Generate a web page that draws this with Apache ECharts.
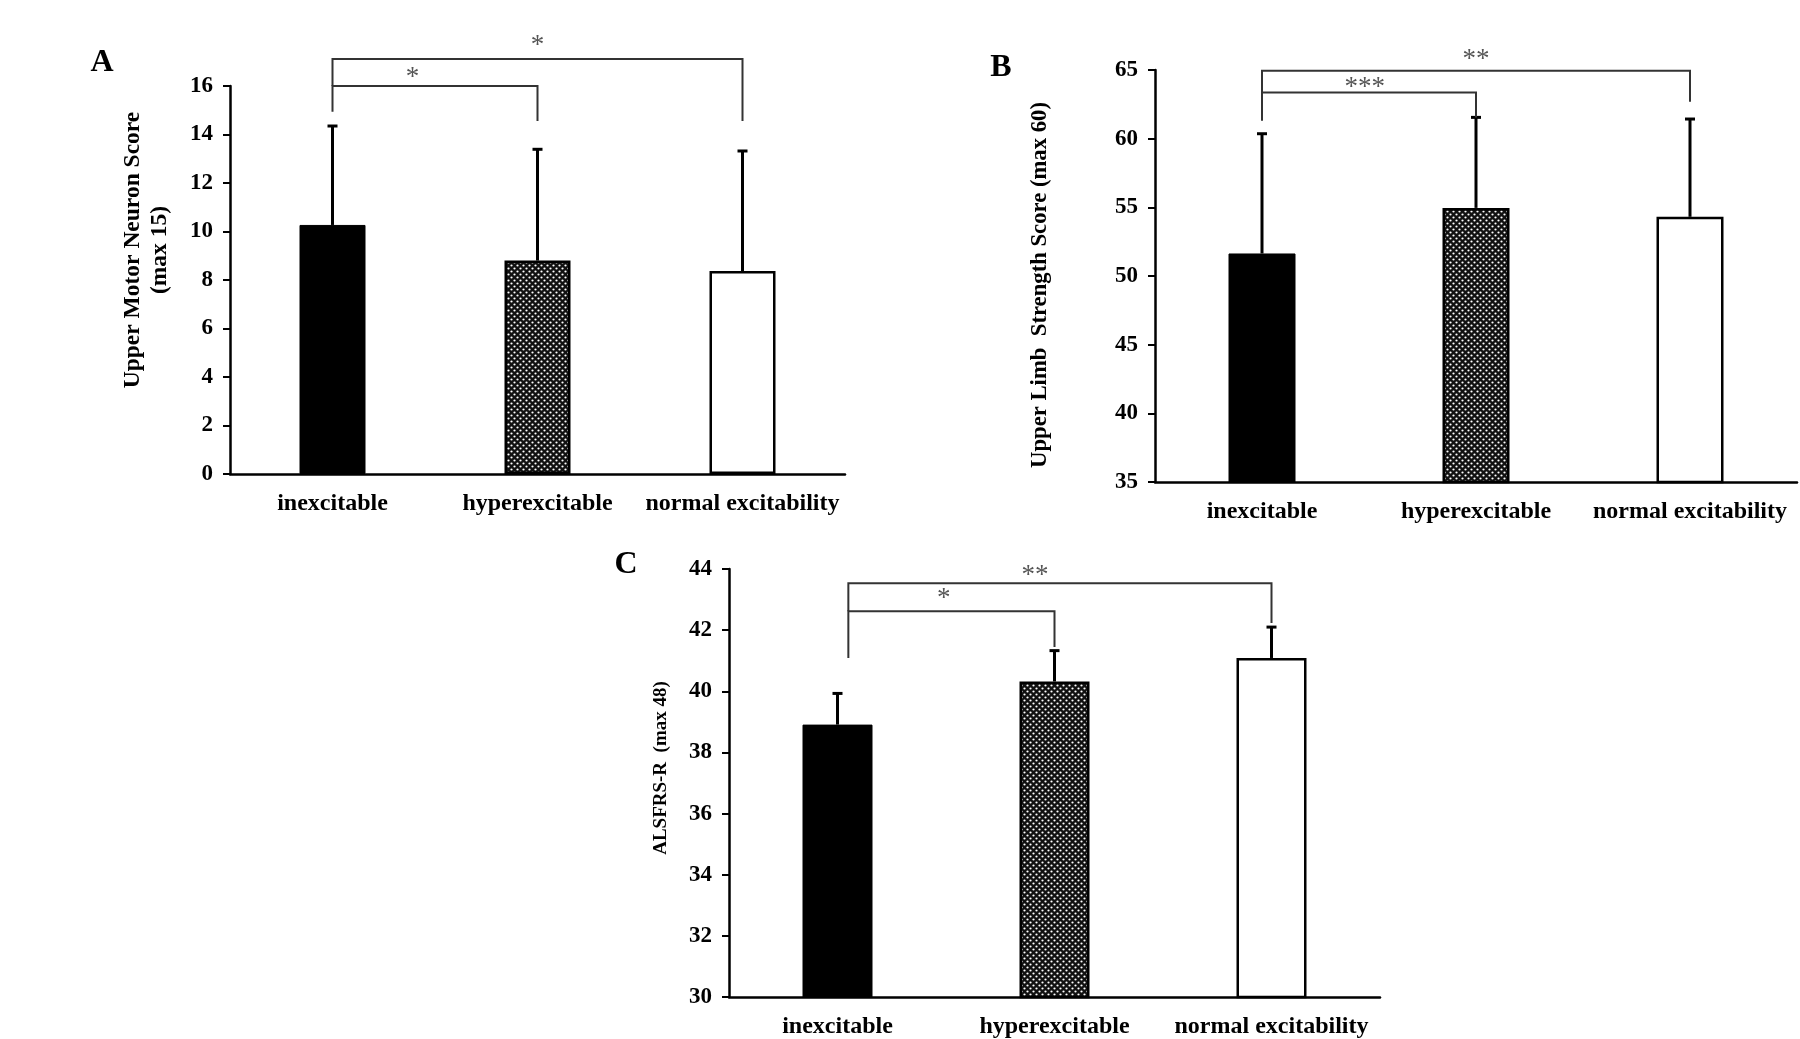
<!DOCTYPE html>
<html><head><meta charset="utf-8">
<script src="https://cdn.jsdelivr.net/npm/echarts@6/dist/echarts.min.js"></script>
<style>html,body{margin:0;padding:0;background:#fff;}#c{width:1800px;height:1039px;}</style>
</head><body><div id="c"></div>
<script>
// ---- data ----
const categories = ['inexcitable', 'hyperexcitable', 'normal excitability'];
const meanA = [10.27, 8.80, 8.37];
const topA  = [14.35, 13.39, 13.32];
const meanB = [51.64, 54.96, 54.31];
const topB  = [60.36, 61.55, 61.43];
const meanC = [38.91, 40.32, 41.09];
const topC  = [39.93, 41.33, 42.10];
// brackets: [fromCat, toCat, level, footFrom, footTo, starX, starY]
const bracketsA = [[0, 1, 16.0, 14.94, 14.56, 0.39, 16.55], [0, 2, 17.11, 16.0, 14.56, 1.0, 17.85]];
const starsA = ['*', '*'];
const bracketsB = [[0, 1, 63.37, 61.3, 61.55, 0.48, 64.07], [0, 2, 64.95, 63.37, 62.69, 1.0, 66.1]];
const starsB = ['***', '**'];
const bracketsC = [[0.05, 1, 42.62, 41.09, 41.45, 0.49, 43.19], [0.05, 2, 43.53, 42.62, 42.23, 0.91, 43.95]];
const starsC = ['*', '**'];
const axisA = {min: 0, max: 16, interval: 2};
const axisB = {min: 35, max: 65, interval: 5};
const axisC = {min: 30, max: 44, interval: 2};

const FF = "'Liberation Serif', 'Times New Roman', serif";

// dotted pattern
const pc = document.createElement('canvas');
pc.width = 6; pc.height = 6;
const g = pc.getContext('2d');
g.fillStyle = '#111'; g.fillRect(0, 0, 6, 6);
g.fillStyle = '#fff';
g.beginPath(); g.arc(1.5, 1.5, 1.1, 0, Math.PI * 2); g.fill();
g.beginPath(); g.arc(4.5, 4.5, 1.1, 0, Math.PI * 2); g.fill();
const pattern = {image: pc, repeat: 'repeat'};

const barStyles = [
  {color: '#000', borderColor: '#000', borderWidth: 1},
  {color: pattern, borderColor: '#000', borderWidth: 2.5},
  {color: '#fff', borderColor: '#000', borderWidth: 2.5}
];

const chart = echarts.init(document.getElementById('c'), null, {renderer: 'canvas'});

function errRender(params, api) {
  const i = api.value(0), m = api.value(1), t = api.value(2);
  const p0 = api.coord([i, m]), p1 = api.coord([i, t]);
  return {type: 'group', children: [
    {type: 'line', shape: {x1: p0[0], y1: p0[1], x2: p1[0], y2: p1[1]}, style: {stroke: '#000', lineWidth: 3}},
    {type: 'line', shape: {x1: p1[0] - 5, y1: p1[1], x2: p1[0] + 5, y2: p1[1]}, style: {stroke: '#000', lineWidth: 3}}
  ]};
}
function bracketRender(stars) {
  return function (params, api) {
    const f = api.value(0), t = api.value(1), lv = api.value(2), ff = api.value(3), ft = api.value(4);
    const sx = api.value(5), sy = api.value(6);
    const bw = api.size([1, 0])[0];
    const X = v => { const i = Math.floor(v); return api.coord([i, lv])[0] + (v - i) * bw; };
    const Y = v => api.coord([0, v])[1];
    const xf = X(f), xt = X(t);
    return {type: 'group', children: [
      {type: 'polyline', shape: {points: [[xf, Y(ff)], [xf, Y(lv)], [xt, Y(lv)], [xt, Y(ft)]]},
       style: {stroke: '#333', lineWidth: 2, fill: null}},
      {type: 'text', x: X(sx), y: Y(sy) + 5,
       style: {text: stars[params.dataIndex], fill: '#555', fontSize: 27, fontFamily: FF, align: 'center', verticalAlign: 'middle'}}
    ]};
  };
}

const grids = [
  {left: 230, top: 86, width: 615, height: 388},
  {left: 1155, top: 70, width: 642, height: 412},
  {left: 729, top: 569, width: 651, height: 429}
];
const axes = [axisA, axisB, axisC];
const means = [meanA, meanB, meanC];
const tops = [topA, topB, topC];
const brackets = [bracketsA, bracketsB, bracketsC];
const stars = [starsA, starsB, starsC];
const barW = [66, 67, 70];

const xAxis = grids.map((gr, k) => ({
  type: 'category', gridIndex: k, data: categories,
  axisLine: {lineStyle: {color: '#000', width: 2.5}},
  axisTick: {show: false},
  axisLabel: {color: '#000', fontFamily: FF, fontWeight: 'bold', fontSize: 24, margin: 18, interval: 0}
}));
const yAxis = axes.map((a, k) => ({
  type: 'value', gridIndex: k, min: a.min, max: a.max, interval: a.interval,
  axisLine: {show: true, lineStyle: {color: '#000', width: 2.5}},
  axisTick: {show: true, length: 7, lineStyle: {color: '#000', width: 2}},
  splitLine: {show: false},
  axisLabel: {color: '#000', fontFamily: FF, fontWeight: 'bold', fontSize: 23, margin: 17}
}));

const series = [];
for (let k = 0; k < 3; k++) {
  series.push({
    type: 'bar', xAxisIndex: k, yAxisIndex: k, barWidth: barW[k], z: 2,
    data: means[k].map((v, i) => ({value: v, itemStyle: barStyles[i]})),
    silent: true
  });
  series.push({
    type: 'custom', xAxisIndex: k, yAxisIndex: k, z: 3, clip: false, silent: true,
    encode: {x: 0, y: 2},
    renderItem: errRender,
    data: means[k].map((v, i) => [i, v, tops[k][i]])
  });
  series.push({
    type: 'custom', xAxisIndex: k, yAxisIndex: k, z: 3, clip: false, silent: true,
    encode: {x: 0, y: 2},
    renderItem: bracketRender(stars[k]),
    data: brackets[k]
  });
}

const txt = (x, y, text, size, rot, extra) => Object.assign({
  type: 'text', x: x, y: y, rotation: rot || 0,
  style: Object.assign({text: text, fill: '#000', fontFamily: FF, fontWeight: 'bold', fontSize: size,
    align: 'center', verticalAlign: 'middle'}, extra || {})
});

chart.setOption({
  animation: false,
  backgroundColor: '#fff',
  grid: grids.map(gr => Object.assign({containLabel: false}, gr)),
  xAxis: xAxis,
  yAxis: yAxis,
  series: series,
  graphic: [
    txt(102, 63, 'A', 32),
    txt(1001, 68, 'B', 32),
    txt(626, 565, 'C', 32),
    txt(146, 250, 'Upper Motor Neuron Score\n(max 15)', 23.5, Math.PI / 2, {lineHeight: 27}),
    txt(1040, 285, 'Upper Limb  Strength Score (max 60)', 22.7, Math.PI / 2),
    txt(661, 768, 'ALSFRS-R  (max 48)', 19, Math.PI / 2)
  ]
});
</script>
</body></html>
